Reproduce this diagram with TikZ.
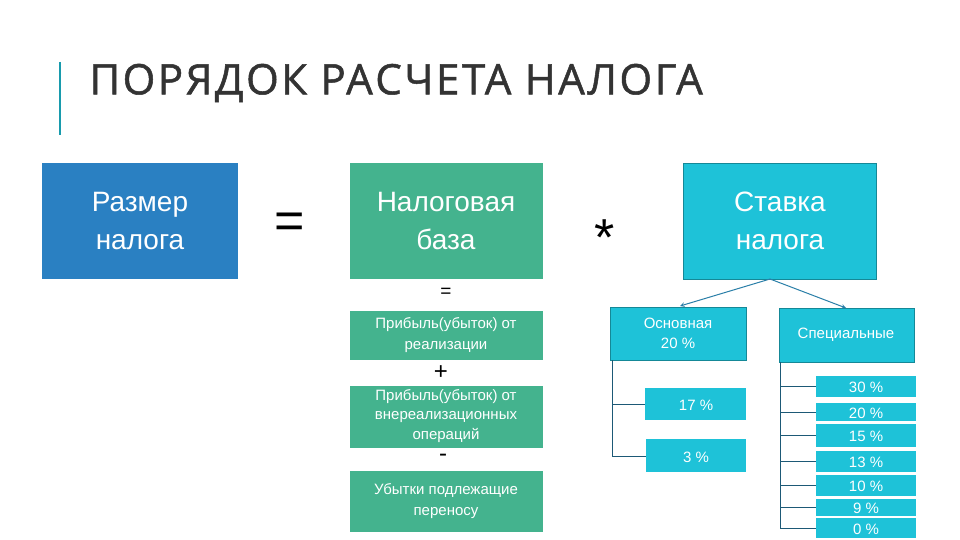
\documentclass[tikz,border=0pt]{standalone}
\usepackage{fontspec}
\setmainfont{Liberation Sans}
\newfontfamily\titlefont[LetterSpace=6,FakeBold=1.2]{Open Sans}
\begin{document}
\begin{tikzpicture}[x=1pt,y=-1pt,
 bx/.style={draw=none,text=white,align=center,inner sep=0pt},
]
\definecolor{cb}{HTML}{2A80C2}\definecolor{cg}{HTML}{44B38E}\definecolor{cc}{HTML}{1EC2D8}\definecolor{ln}{HTML}{2A7FA8}
\useasboundingbox (0,0) rectangle (960,540);
\fill[white] (0,0) rectangle (960,540);
\draw[cc!80!black,line width=2pt] (60,62) -- (60,135);
\node[anchor=west,text=black!80,font=\titlefont\fontsize{42}{46}\selectfont] (title) at (86,83) {ПОРЯДОК РАСЧЕТА НАЛОГА};
% top row
\fill[cb] (42,163) rectangle (238,279);
\node[bx,font=\fontsize{28}{38}\selectfont] (a) at (140,221) {Размер\\налога};
\node[font=\fontsize{52}{52}\selectfont] (eq) at (290,226) {=};
\fill[cg] (350,163) rectangle (543,279);
\node[bx,font=\fontsize{28}{38}\selectfont] (b) at (446,221) {Налоговая\\база};
\node[font=\fontsize{52}{52}\selectfont] (mul) at (605,238) {*};
\fill[cc] (683,163) rectangle (876,279);
\draw[cc!70!black,line width=0.6pt] (683,163) rectangle (876,279);
\node[bx,font=\fontsize{28}{38}\selectfont] (c) at (780,221) {Ставка\\налога};
% left column
\node[font=\fontsize{19}{19}\selectfont] (eq2) at (446,293) {=};
\fill[cg] (350,311) rectangle (543,360);
\node[bx,font=\fontsize{15}{21}\selectfont] (p1) at (446,335) {Прибыль(убыток) от\\реализации};
\node[font=\fontsize{24}{24}\selectfont] (pl) at (441,373) {+};
\fill[cg] (350,386) rectangle (543,448);
\node[bx,font=\fontsize{15}{19.5}\selectfont] (p2) at (446,416) {Прибыль(убыток) от\\внереализационных\\операций};
\node[font=\fontsize{24}{24}\selectfont] (mi) at (443,458) {-};
\fill[cg] (350,471) rectangle (543,532);
\node[bx,font=\fontsize{15}{21}\selectfont] (p3) at (446,501) {Убытки подлежащие\\переносу};
% rates
\coordinate (cb0) at (770,279);
\fill[cc] (610,307) rectangle (746,360);
\draw[cc!70!black,line width=0.5pt] (610,307) rectangle (746,360);
\node[bx,font=\fontsize{15}{20}\selectfont] (o) at (678,333) {Основная\\20 \%};
\fill[cc] (779,308) rectangle (914,362);
\draw[cc!70!black,line width=0.5pt] (779,308) rectangle (914,362);
\node[bx,font=\fontsize{15}{20}\selectfont] (s) at (846,335) {Специальные};
\coordinate (ot) at (680,306);
\coordinate (st) at (846,308);
\draw[ln,line width=1pt,-stealth] (cb0) -- (ot);
\draw[ln,line width=1pt,-stealth] (cb0) -- (st);
\fill[cc] (645,388) rectangle (746,420); \node[bx,font=\fontsize{15}{18}\selectfont] (r17) at (696,405) {17 \%};
\fill[cc] (646,439) rectangle (746,472); \node[bx,font=\fontsize{15}{18}\selectfont] (r3) at (696,457) {3 \%};
\draw[ln!70!black,line width=0.6pt] (612,360) -- (612,456) -- (646,456);
\draw[ln!70!black,line width=0.6pt] (612,404) -- (645,404);
\foreach \n/\ya/\yb/\t in {q30/376/397/30, q20/403/421/20, q15/424/447/15, q13/451/472/13, q10/475/496/10, q9/499/516/9, q0/518/538/0}{
 \fill[cc] (816,\ya) rectangle (916,\yb);
 \node[bx,font=\fontsize{15}{18}\selectfont] (\n) at (866,{(\ya+\yb)/2+1}) {\t\ \%};
 \draw[ln!70!black,line width=0.6pt] (780,{(\ya+\yb)/2}) -- (816,{(\ya+\yb)/2});
}
\draw[ln!70!black,line width=0.6pt] (780,362) -- (780,528);
\end{tikzpicture}
\end{document}
